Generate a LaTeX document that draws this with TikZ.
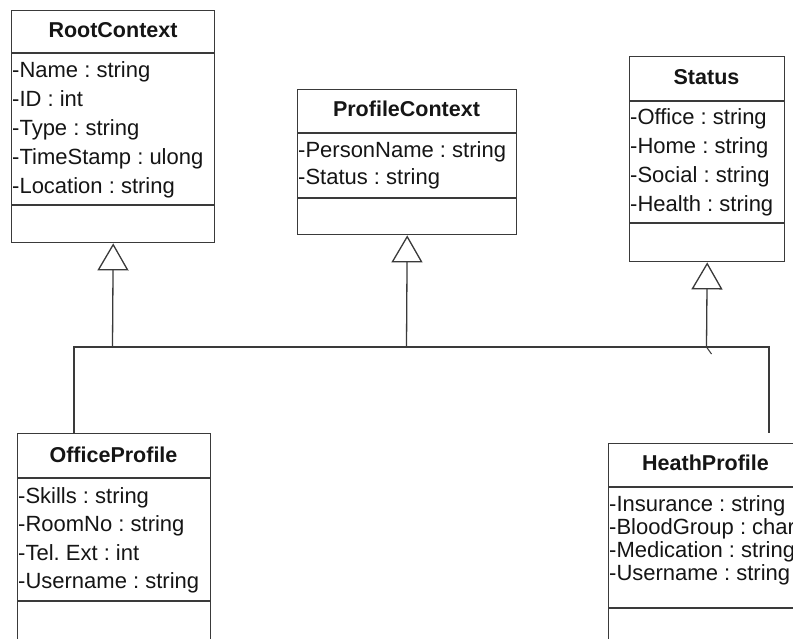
\documentclass[tikz,border=0pt]{standalone}
\usepackage{fontspec}
\setmainfont{Liberation Sans}
\usetikzlibrary{arrows.meta}
\definecolor{ln}{HTML}{3A3A3A}
\definecolor{tx}{HTML}{151515}
\frenchspacing
\tikzset{
  cls/.style={draw=ln, line width=1.4pt, fill=white, anchor=north west, inner sep=0pt},
  sep/.style={draw=ln, line width=1.4pt},
  ttl/.style={anchor=base, inner sep=0pt, text=tx, font=\fontsize{21.5}{25}\selectfont\bfseries},
  attr/.style={anchor=base west, inner sep=0pt, text=tx, font=\fontsize{22}{25}\selectfont\frenchspacing},
  wire/.style={draw=ln, line width=1.3pt},
  gen/.style={draw=ln, line width=1.3pt, -{Triangle[open, length=27pt, width=31pt, fill=white]}},
}
\begin{document}
\begin{tikzpicture}[x=1pt, y=-1pt]
\useasboundingbox (0,0) rectangle (793,639);
\fill[white] (0,0) rectangle (793,639);
\clip (0,0) rectangle (793,639);

% ---- RootContext
\node[cls, minimum width=203pt, minimum height=232pt] (root) at (11,10) {};
\draw[sep] (11,53) -- (214,53);
\draw[sep] (11,205) -- (214,205);
\node[ttl] (rootT) at (113,38) {RootContext};
\node[attr] (r1) at (12,78) {-Name : string};
\node[attr] (r2) at (12,107) {-ID : int};
\node[attr] (r3) at (12,136) {-Type : string};
\node[attr] (r4) at (12,165) {-TimeStamp : ulong};
\node[attr] (r5) at (12,194) {-Location : string};

% ---- ProfileContext
\node[cls, minimum width=219pt, minimum height=145pt] (prof) at (297,89) {};
\draw[sep] (297,133) -- (516,133);
\draw[sep] (297,198) -- (516,198);
\node[ttl] (profT) at (406.5,117) {ProfileContext};
\node[attr] (p1) at (298,158) {-PersonName : string};
\node[attr] (p2) at (298,185) {-Status : string};

% ---- Status
\node[cls, minimum width=155pt, minimum height=205pt] (stat) at (629,56) {};
\draw[sep] (629,101) -- (784,101);
\draw[sep] (629,223) -- (784,223);
\node[ttl] (statT) at (706.5,85) {Status};
\node[attr] (s1) at (630,125) {-Office : string};
\node[attr] (s2) at (630,154) {-Home : string};
\node[attr] (s3) at (630,183) {-Social : string};
\node[attr] (s4) at (630,212) {-Health : string};

% ---- OfficeProfile
\node[cls, minimum width=193pt, minimum height=260pt] (off) at (17,433) {};
\draw[sep] (17,478) -- (210,478);
\draw[sep] (17,601) -- (210,601);
\node[ttl] (offT) at (113.5,462) {OfficeProfile};
\node[attr] (o1) at (18,503) {-Skills : string};
\node[attr] (o2) at (18,531) {-RoomNo : string};
\node[attr] (o3) at (18,560) {-Tel. Ext : int};
\node[attr] (o4) at (18,588) {-Username : string};

% ---- HeathProfile
\node[cls, minimum width=196pt, minimum height=260pt] (heath) at (608,443) {};
\draw[sep] (608,487) -- (804,487);
\draw[sep] (608,608) -- (804,608);
\node[ttl] (heathT) at (705.5,470) {HeathProfile};
\node[attr] (h1) at (609,511) {-Insurance : string};
\node[attr] (h2) at (609,534) {-BloodGroup : char};
\node[attr] (h3) at (609,557) {-Medication : string};
\node[attr] (h4) at (609,580) {-Username : string};

% ---- generalisation connectors
\coordinate (jr1) at (112.5,347);
\coordinate (jp) at (406.5,347);
\coordinate (js) at (706.5,347);
\coordinate (jl) at (74,347);
\coordinate (jr) at (769,347);
\coordinate (hend) at (769,433);
\draw[wire] (jl |- off.north) -- (jl) -- (jr) -- (hend);
\draw[gen] (jr1) -- (root.south);
\draw[gen] (jp) -- (prof.south);
\draw[gen] (js) -- (stat.south);
\draw[draw=ln, line width=1pt] (js) -- ++(5,7);
\end{tikzpicture}
\end{document}
